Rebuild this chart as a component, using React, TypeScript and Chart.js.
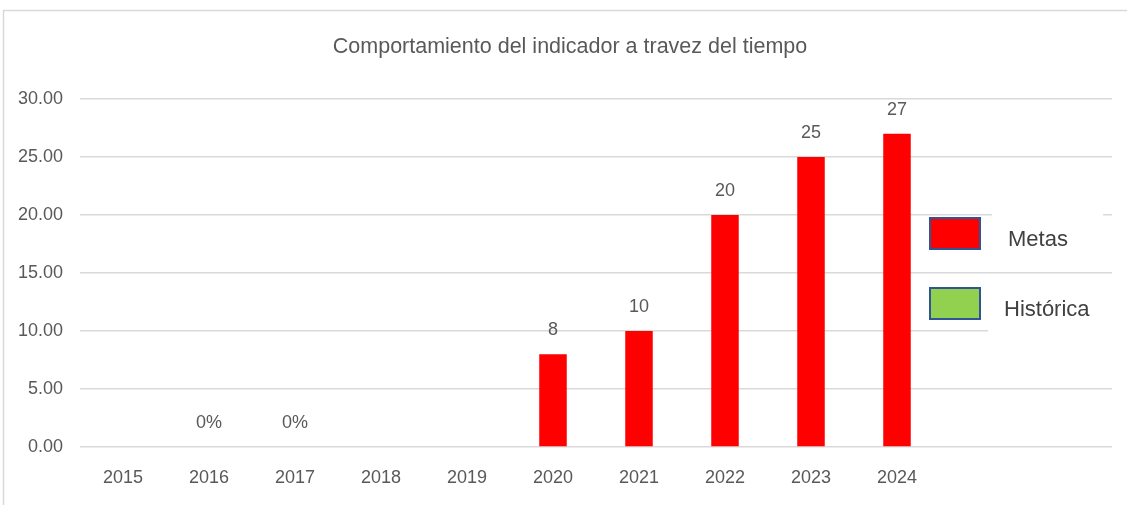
import React, { useEffect, useRef } from "react";
import { Chart, registerables } from "chart.js";

Chart.register(...registerables);

const categories = ["2015", "2016", "2017", "2018", "2019", "2020", "2021", "2022", "2023", "2024", "", ""];
const metas = [null, null, null, null, null, 8, 10, 20, 25, 27, null, null];
const historica = [null, 0, 0, null, null, null, null, null, null, null, null, null];
const seriesNames = ["Metas", "Histórica"];
const seriesColors = ["#FF0000", "#92D050"];
const chartTitle = "Comportamiento del indicador a travez del tiempo";
const yMin = 0;
const yMax = 30;
const yStep = 5;

const FONT = "'Liberation Sans', Arial, sans-serif";
const TEXT = "#595959";

const framePlugin = {
  id: "frame",
  beforeDraw(chart: any) {
    const ctx = chart.ctx;
    ctx.save();
    ctx.fillStyle = "#ffffff";
    ctx.fillRect(0, 0, chart.width, chart.height);
    ctx.strokeStyle = "#d9d9d9";
    ctx.lineWidth = 1.5;
    ctx.strokeRect(3.5, 10.5, chart.width + 10, chart.height + 10);
    ctx.restore();
  },
};

const titlePlugin = {
  id: "customTitle",
  afterDraw(chart: any) {
    const ctx = chart.ctx;
    ctx.save();
    ctx.font = `21.5px ${FONT}`;
    ctx.fillStyle = TEXT;
    ctx.textAlign = "center";
    ctx.textBaseline = "middle";
    ctx.fillText(chartTitle, 570, 47);
    ctx.restore();
  },
};

const labelPlugin = {
  id: "valueLabels",
  afterDatasetsDraw(chart: any) {
    const ctx = chart.ctx;
    ctx.save();
    ctx.font = `18px ${FONT}`;
    ctx.fillStyle = TEXT;
    ctx.textAlign = "center";
    ctx.textBaseline = "middle";
    chart.data.datasets.forEach((ds: any, di: number) => {
      const meta = chart.getDatasetMeta(di);
      meta.data.forEach((el: any, i: number) => {
        const v = ds.data[i];
        if (v === null || v === undefined) return;
        const txt = di === 1 ? `${Math.round(v * 100)}%` : String(v);
        ctx.fillText(txt, el.x, el.y - 24);
      });
    });
    ctx.restore();
  },
};

const legendPlugin = {
  id: "customLegend",
  afterDraw(chart: any) {
    const ctx = chart.ctx;
    const r = chart.chartArea.right;
    ctx.save();
    ctx.fillStyle = "#ffffff";
    ctx.fillRect(r - 120, 205, 111, 58);
    ctx.fillRect(r - 124, 284, 140, 58);
    const rows = [218, 288];
    seriesNames.forEach((name, i) => {
      const y = rows[i];
      ctx.fillStyle = seriesColors[i];
      ctx.fillRect(r - 182, y, 50, 31);
      ctx.strokeStyle = "#2F5597";
      ctx.lineWidth = 2;
      ctx.strokeRect(r - 182, y, 50, 31);
      ctx.fillStyle = "#404040";
      ctx.font = `22px ${FONT}`;
      ctx.textAlign = "left";
      ctx.textBaseline = "middle";
      ctx.fillText(name, i === 0 ? r - 104 : r - 108, y + 22);
    });
    ctx.restore();
  },
};

export default function App() {
  const ref = useRef<HTMLCanvasElement | null>(null);
  useEffect(() => {
    if (!ref.current) return;
    const chart = new Chart(ref.current, {
      type: "bar",
      data: {
        labels: categories,
        datasets: [
          {
            label: seriesNames[0],
            data: metas,
            backgroundColor: seriesColors[0],
            grouped: false,
            categoryPercentage: 1,
            barPercentage: 0.32,
          } as any,
          {
            label: seriesNames[1],
            data: historica,
            backgroundColor: seriesColors[1],
            grouped: false,
            categoryPercentage: 1,
            barPercentage: 0.32,
          } as any,
        ],
      },
      options: {
        responsive: false,
        animation: false,
        layout: { padding: { left: 0, right: 15, top: 99, bottom: 0 } },
        plugins: {
          legend: { display: false },
          tooltip: { enabled: false },
          title: { display: false },
        },
        scales: {
          x: {
            grid: { display: false, drawTicks: false },
            border: { display: false },
            ticks: {
              color: TEXT,
              font: { family: FONT, size: 18 },
              padding: 20,
              autoSkip: false,
              maxRotation: 0,
            },
            afterFit(scale: any) {
              scale.height = 58;
            },
          },
          y: {
            min: yMin,
            max: yMax,
            grid: { color: "#d9d9d9", lineWidth: 1.5, drawTicks: false },
            border: { display: false },
            ticks: {
              stepSize: yStep,
              color: TEXT,
              font: { family: FONT, size: 18 },
              padding: 17,
              callback: (v: any) => Number(v).toFixed(2),
            },
            afterFit(scale: any) {
              scale.width = 80;
            },
          },
        },
      } as any,
      plugins: [framePlugin, titlePlugin, labelPlugin, legendPlugin],
    });
    return () => chart.destroy();
  }, []);
  return (
    <div style={{ position: "absolute", left: 0, top: 0, width: 1127, height: 505, background: "#fff" }}>
      <canvas ref={ref} width={1127} height={505} style={{ width: 1127, height: 505, display: "block" }} />
    </div>
  );
}
